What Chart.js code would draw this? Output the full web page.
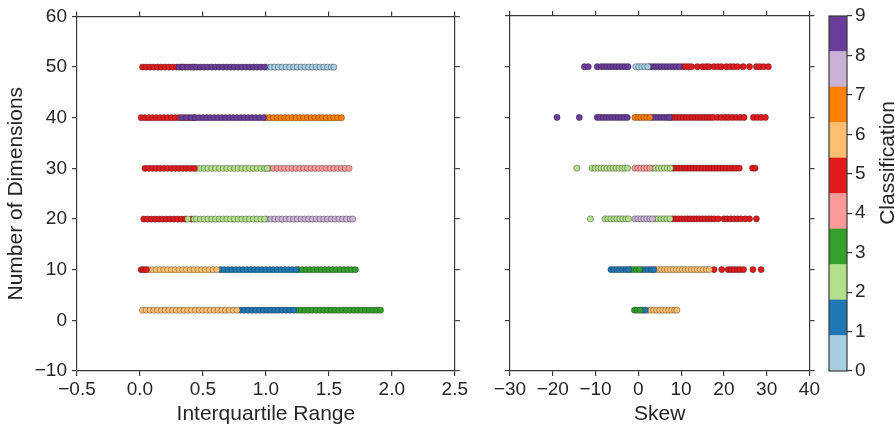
<!DOCTYPE html>
<html><head><meta charset="utf-8">
<script src="https://cdn.jsdelivr.net/npm/chart.js@4/dist/chart.umd.min.js"></script>
<style>
html,body{margin:0;padding:0;background:#fff;width:895px;height:431px;overflow:hidden}
canvas{position:absolute;top:0}
</style></head><body>
<canvas id="c1" width="470" height="431" style="left:0px;width:470px;height:431px"></canvas>
<canvas id="c2" width="352" height="431" style="left:470px;width:352px;height:431px"></canvas>
<canvas id="c3" width="73" height="431" style="left:822px;width:73px;height:431px"></canvas>
<script>
// ---- data ----
const dims = [50, 40, 30, 20, 10, 2];
const classColors = ['#a6cee3','#1f78b4','#b2df8a','#33a02c','#fb9a99','#e31a1c','#fdbf6f','#ff7f00','#cab2d6','#6a3d9a'];
const classTicks = [0,1,2,3,4,5,6,7,8,9];

// Interquartile range, per dimension row: [class, values]
const iqr50 = [
  [9, [0.31,0.34,0.38,0.42,0.45,0.48,0.51,0.54,0.57,0.6,0.63,0.66,0.69,0.72,0.75,0.78,0.81,0.84,0.87,0.9,0.93,0.96,0.99]],
  [5, [0.02,0.05,0.08,0.11,0.14,0.17,0.2,0.23,0.26,0.29,0.33,0.36,0.4,0.43]],
  [0, [1.01,1.04,1.07,1.1,1.13,1.16,1.19,1.22,1.25,1.28,1.31,1.34,1.37,1.4,1.43,1.46,1.49,1.52,1.54]]
];
const iqr40 = [
  [9, [0.33,0.37,0.41,0.44,0.47,0.5,0.53,0.56,0.59,0.62,0.65,0.68,0.71,0.74,0.77,0.8,0.83,0.86,0.89,0.92,0.95,0.98]],
  [5, [0.01,0.04,0.07,0.1,0.13,0.16,0.19,0.22,0.25,0.28,0.31,0.35,0.39,0.43]],
  [7, [1.0,1.03,1.06,1.09,1.12,1.15,1.18,1.21,1.24,1.27,1.3,1.33,1.36,1.39,1.42,1.45,1.48,1.51,1.54,1.57,1.6]]
];
const iqr30 = [
  [5, [0.04,0.07,0.1,0.13,0.16,0.19,0.22,0.25,0.28,0.31,0.34,0.37,0.4,0.43]],
  [2, [0.45,0.48,0.51,0.54,0.57,0.6,0.63,0.66,0.69,0.72,0.75,0.78,0.81,0.84,0.87,0.9,0.93,0.96,0.99,1.01]],
  [4, [1.03,1.06,1.09,1.12,1.15,1.18,1.21,1.24,1.27,1.3,1.33,1.36,1.39,1.42,1.45,1.48,1.51,1.54,1.57,1.6,1.63,1.66]]
];
const iqr20 = [
  [2, [0.38,0.43,0.45,0.48,0.51,0.54,0.57,0.6,0.63,0.66,0.69,0.72,0.75,0.78,0.81,0.84,0.87,0.9,0.93,0.96,0.99]],
  [5, [0.03,0.06,0.09,0.12,0.15,0.18,0.21,0.24,0.27,0.3,0.33,0.36,0.41]],
  [8, [1.01,1.04,1.07,1.1,1.13,1.16,1.19,1.22,1.25,1.28,1.31,1.34,1.37,1.4,1.43,1.46,1.49,1.52,1.55,1.58,1.61,1.64,1.67,1.69]]
];
const iqr10 = [
  [5, [0.01,0.03,0.05]],
  [6, [0.07,0.1,0.13,0.16,0.19,0.22,0.25,0.28,0.31,0.34,0.37,0.4,0.43,0.46,0.49,0.52,0.55,0.58,0.61]],
  [1, [0.64,0.67,0.7,0.73,0.76,0.79,0.82,0.85,0.88,0.91,0.94,0.97,1.0,1.03,1.06,1.09,1.12,1.15,1.18,1.21,1.24]],
  [3, [1.26,1.29,1.32,1.35,1.38,1.41,1.44,1.47,1.5,1.53,1.56,1.59,1.62,1.65,1.68,1.71]]
];
const iqr2 = [
  [6, [0.02,0.05,0.08,0.11,0.14,0.17,0.2,0.23,0.26,0.29,0.32,0.35,0.38,0.41,0.44,0.47,0.5,0.53,0.56,0.59,0.62,0.65,0.68,0.71,0.74,0.77]],
  [1, [0.8,0.83,0.86,0.89,0.92,0.95,0.98,1.01,1.04,1.07,1.1,1.13,1.16,1.19,1.22]],
  [3, [1.25,1.28,1.31,1.34,1.37,1.4,1.43,1.46,1.49,1.52,1.55,1.58,1.61,1.64,1.67,1.7,1.73,1.76,1.79,1.82,1.85,1.88,1.91]]
];

// Skew, per dimension row: [class, values]
const skew50 = [
  [9, [-12.6,-11.7,-9.6,-8.7,-8.0,-7.3,-6.6,-5.9,-5.2,-4.5,-3.8,-3.1,-2.4]],
  [0, [-0.6,0.1,0.8,1.5,2.2]],
  [9, [2.6,3.3,4.0,4.7,5.4,6.1,6.8,7.5,8.2,8.9,9.6]],
  [5, [10.3,11.0,11.7,12.4,13.8,15.0,15.8,16.5,17.7,18.6,19.4,20.6,21.5,22.3,23.2,24.5,26.0,27.6,28.4,29.3,30.4]]
];
const skew40 = [
  [9, [-19.0,-13.8,-9.6,-8.9,-8.2,-7.5,-6.8,-6.1,-5.4,-4.7,-4.0,-3.3,-2.6]],
  [7, [-0.8,-0.1,0.6,1.3,2.0,2.7]],
  [9, [3.2,3.9,4.6,5.3,6.0,6.7,7.3]],
  [5, [7.7,8.4,9.1,9.8,10.5,11.2,11.9,12.6,13.3,14.0,14.7,15.4,16.1,16.8,17.5,18.5,19.4,20.3,21.1,22.0,22.9,23.8,24.7,26.9,27.8,28.7,29.7]]
];
const skew30 = [
  [2, [-14.4,-10.8,-10.1,-9.4,-8.7,-8.0,-7.3,-6.6,-5.9,-5.2,-4.5,-3.8,-3.1,-2.5]],
  [4, [-0.8,-0.1,0.6,1.3,2.0,2.7]],
  [2, [3.3,4.0,4.7,5.4,6.1,6.8,7.5]],
  [5, [8.0,8.7,9.4,10.1,10.8,11.5,12.2,12.9,13.6,14.3,15.0,15.7,16.4,17.1,17.8,18.5,19.2,19.9,20.6,21.3,22.0,22.8,23.6,26.7,27.3]]
];
const skew20 = [
  [2, [-11.2,-7.8,-7.1,-6.4,-5.7,-5.0,-4.3,-3.6,-2.9,-2.3]],
  [8, [-0.8,-0.1,0.6,1.3,2.0,2.7,3.3]],
  [2, [3.9,4.6,5.3,6.0,6.7,7.4]],
  [5, [8.0,8.7,9.4,10.1,10.8,11.5,12.2,12.9,13.6,14.3,15.0,15.7,16.4,17.1,17.8,18.7,20.0,20.8,21.6,22.4,23.2,24.0,25.0,26.0,27.6]]
];
const skew10 = [
  [1, [-6.4,-5.7,-5.0,-4.3,-3.6,-2.9,-2.3]],
  [3, [-1.8,-1.1,-0.4,0.3]],
  [1, [0.9,1.6,2.3,3.0,3.6]],
  [6, [4.0,4.7,5.4,6.1,6.8,7.5,8.2,8.9,9.6,10.3,11.0,11.7,12.4,13.1,13.8,14.5,15.2,15.9,16.6]],
  [5, [17.7,19.5,21.0,21.7,22.4,23.1,23.8,24.6,26.8,28.7]]
];
const skew2 = [
  [3, [-0.9,-0.3,0.4]],
  [1, [1.0,1.6]],
  [6, [2.2,2.9,3.6,4.3,5.0,5.7,6.4,7.1,7.8,8.5,9.0]]
];

const iqrRows = [iqr50, iqr40, iqr30, iqr20, iqr10, iqr2];
const skewRows = [skew50, skew40, skew30, skew20, skew10, skew2];

const yTicks = [-10, 0, 10, 20, 30, 40, 50, 60];
const iqrTicks = [-0.5, 0.0, 0.5, 1.0, 1.5, 2.0, 2.5];
const skewTicks = [-30, -20, -10, 0, 10, 20, 30, 40];

// ---- styling ----
const FONT = '"Liberation Sans", Arial, Helvetica, sans-serif';
const TXT = '#262626';
const AX = '#3a3a3a';
Chart.defaults.font.family = FONT;
Chart.defaults.color = TXT;

function fmtMinus(s){ return s.replace('-', '\u2212'); }

function buildDatasets(rows){
  const ds = [];
  rows.forEach((row, i) => {
    row.forEach(([cls, xs]) => {
      ds.push({
        data: xs.map(x => ({x: x, y: dims[i]})),
        backgroundColor: classColors[cls],
        borderColor: 'rgba(30,30,30,0.6)',
        borderWidth: 0.6,
        pointRadius: 3.1,
        pointHoverRadius: 3.1
      });
    });
  });
  return ds;
}

function axisGrid(){
  return {drawOnChartArea: false, drawTicks: true, tickLength: 5, color: AX, lineWidth: 1.2};
}
function border(){ return {display: true, color: AX, width: 1.2}; }
function fixed(size){ return function(s){ if (s.isHorizontal()) s.height = size; else s.width = size; }; }

function panel(id, rows, xTicks, xTitle, geom, showY, decimals){
  const xmin = xTicks[0], xmax = xTicks[xTicks.length-1];
  const xTickLabel = v => fmtMinus(decimals ? Number(v).toFixed(decimals) : String(Math.round(v)));
  return new Chart(document.getElementById(id), {
    type: 'scatter',
    data: {datasets: buildDatasets(rows)},
    options: {
      responsive: false, animation: false, events: [],
      layout: {padding: 0},
      plugins: {legend: {display: false}, tooltip: {enabled: false}},
      scales: {
        x: {type: 'linear', position: 'bottom', min: xmin, max: xmax,
            afterBuildTicks: s => { s.ticks = xTicks.map(v => ({value: v})); },
            ticks: {callback: xTickLabel, font: {size: 19}, padding: 2, maxRotation: 0, autoSkip: false, color: TXT},
            grid: axisGrid(), border: border(),
            title: {display: true, text: xTitle, font: {size: 21}, color: TXT, padding: {top: 0, bottom: 4}},
            afterFit: fixed(geom.bottom)},
        x2: {type: 'linear', position: 'top', min: xmin, max: xmax,
            afterBuildTicks: s => { s.ticks = xTicks.map(v => ({value: v})); },
            ticks: {display: false}, grid: axisGrid(), border: border(),
            afterFit: fixed(geom.top)},
        y: {type: 'linear', position: 'left', min: -10, max: 60,
            afterBuildTicks: s => { s.ticks = yTicks.map(v => ({value: v})); },
            ticks: {display: showY, callback: v => fmtMinus(String(v)), font: {size: 19}, padding: 5, color: TXT},
            grid: axisGrid(), border: border(),
            title: {display: showY, text: 'Number of Dimensions', font: {size: 21}, color: TXT, padding: {top: 4, bottom: 2}},
            afterFit: fixed(geom.left)},
        y2: {type: 'linear', position: 'right', min: -10, max: 60,
            afterBuildTicks: s => { s.ticks = yTicks.map(v => ({value: v})); },
            ticks: {display: false}, grid: axisGrid(), border: border(),
            afterFit: fixed(geom.right)}
      }
    }
  });
}

panel('c1', iqrRows, iqrTicks, 'Interquartile Range', {left: 77, right: 15, top: 16, bottom: 60}, true, 1);
panel('c2', skewRows, skewTicks, 'Skew', {left: 40, right: 7, top: 16, bottom: 60}, false, 0);

// ---- colorbar ----
const cbTitle = {
  id: 'cbTitle',
  afterDraw(chart){
    const ctx = chart.ctx, a = chart.chartArea;
    ctx.save();
    ctx.strokeStyle = AX; ctx.lineWidth = 1.2;
    ctx.strokeRect(a.left, a.top, a.right - a.left, a.bottom - a.top);
    ctx.translate(66, 163);
    ctx.rotate(-Math.PI / 2);
    ctx.fillStyle = TXT;
    ctx.font = '21px ' + FONT;
    ctx.textAlign = 'center'; ctx.textBaseline = 'middle';
    ctx.fillText('Classification', 0, 0);
    ctx.restore();
  }
};
new Chart(document.getElementById('c3'), {
  type: 'bar',
  data: {
    labels: ['cb'],
    datasets: classColors.map((c, i) => ({
      data: [[i * 0.9, (i + 1) * 0.9]],
      backgroundColor: c, borderWidth: 0,
      barPercentage: 1, categoryPercentage: 1, grouped: false
    }))
  },
  options: {
    responsive: false, animation: false, events: [],
    layout: {padding: {left: 7, top: 16, bottom: 60, right: 0}},
    plugins: {legend: {display: false}, tooltip: {enabled: false}},
    scales: {
      x: {display: false},
      y: {position: 'right', min: 0, max: 9,
          afterBuildTicks: s => { s.ticks = classTicks.map(v => ({value: v})); },
          ticks: {font: {size: 19}, padding: 3, color: TXT},
          grid: {drawOnChartArea: false, tickLength: 5, color: AX, lineWidth: 1.2},
          border: {display: false},
          afterFit: fixed(48)}
    }
  },
  plugins: [cbTitle]
});
</script>
</body></html>
